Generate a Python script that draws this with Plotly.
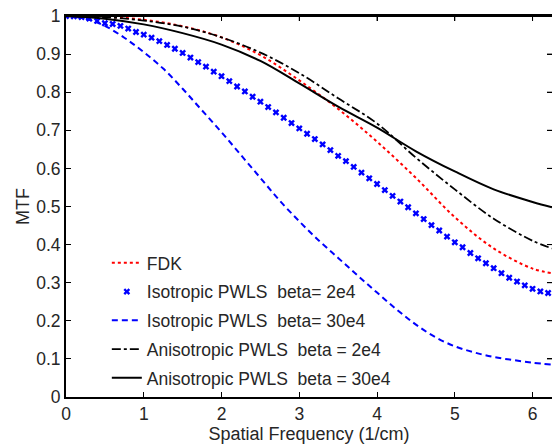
import numpy as np
import plotly.graph_objects as go

# ---- data ----
x_line = [0, 0.5, 1.0, 1.5, 2.0, 2.5, 3.0, 3.5, 4.0, 4.5, 5.0, 5.5, 6.0, 6.25]
fdk = [1.0, 0.998, 0.990, 0.973, 0.944, 0.897, 0.831, 0.756, 0.670, 0.575, 0.472, 0.390, 0.337, 0.325]
aniso_2e4 = [1.0, 0.997, 0.988, 0.972, 0.944, 0.904, 0.850, 0.784, 0.718, 0.628, 0.545, 0.468, 0.410, 0.390]
aniso_30e4 = [1.0, 0.993, 0.978, 0.955, 0.925, 0.882, 0.823, 0.762, 0.707, 0.645, 0.592, 0.545, 0.512, 0.498]

x_dash = [0, 0.25, 0.5, 0.75, 1.0, 1.25, 1.5, 1.75, 2.0, 2.25, 2.5, 2.75, 3.0, 3.25,
          3.5, 3.75, 4.0, 4.25, 4.5, 4.75, 5.0, 5.25, 5.5, 5.75, 6.0, 6.25]
iso_30e4 = [1.0, 0.993, 0.974, 0.943, 0.905, 0.862, 0.809, 0.752, 0.695, 0.635, 0.575, 0.515,
            0.461, 0.411, 0.365, 0.319, 0.274, 0.230, 0.190, 0.157, 0.133, 0.117, 0.105,
            0.097, 0.090, 0.085]

x_mark = [round(0.1 * i, 1) for i in range(63)]
iso_2e4 = [1.000, 0.999, 0.997, 0.993, 0.987, 0.981, 0.979, 0.974, 0.967, 0.958,
           0.951, 0.943, 0.934, 0.924, 0.914, 0.903, 0.891, 0.879, 0.867, 0.854,
           0.842, 0.829, 0.815, 0.802, 0.788, 0.775, 0.761, 0.747, 0.733, 0.719,
           0.705, 0.691, 0.677, 0.663, 0.648, 0.633, 0.619, 0.604, 0.589, 0.574,
           0.559, 0.543, 0.528, 0.513, 0.498, 0.482, 0.467, 0.451, 0.437, 0.421,
           0.406, 0.393, 0.378, 0.364, 0.351, 0.338, 0.325, 0.313, 0.303, 0.293,
           0.284, 0.277, 0.273]

x_ticks = [0, 1, 2, 3, 4, 5, 6]
y_ticks = [0, 0.1, 0.2, 0.3, 0.4, 0.5, 0.6, 0.7, 0.8, 0.9, 1]
y_tick_text = ["0", "0.1", "0.2", "0.3", "0.4", "0.5", "0.6", "0.7", "0.8", "0.9", "1"]

FONT = "Liberation Sans, Arial, sans-serif"
TXT = "#262626"

W, H = 552, 447
ML, MR, MT, MB = 66.3, 0, 15.5, 49.5
PW, PH = W - ML - MR, H - MT - MB
TICK = 5

fig = go.Figure()
fig.add_trace(go.Scatter(x=x_line, y=fdk, mode="lines", name="FDK", legendgroup="a",
                         line=dict(color="#ff0000", width=2, dash="dot", shape="spline")))
fig.add_trace(go.Scatter(x=x_mark, y=iso_2e4, mode="markers", name="Isotropic PWLS  beta= 2e4",
                         legendgroup="b",
                         marker=dict(symbol="x", size=6, color="#0000ff", line=dict(width=0))))
fig.add_trace(go.Scatter(x=x_dash, y=iso_30e4, mode="lines", name="Isotropic PWLS  beta= 30e4",
                         legendgroup="c",
                         line=dict(color="#0000ff", width=2, dash="6px,4px", shape="spline")))
fig.add_trace(go.Scatter(x=x_line, y=aniso_2e4, mode="lines", name="Anisotropic PWLS  beta = 2e4",
                         legendgroup="d",
                         line=dict(color="#000000", width=1.8, dash="dashdot", shape="spline")))
fig.add_trace(go.Scatter(x=x_line, y=aniso_30e4, mode="lines", name="Anisotropic PWLS  beta = 30e4",
                         legendgroup="e",
                         line=dict(color="#000000", width=2, shape="spline")))

axis_common = dict(showline=True, linecolor="#000000", linewidth=2, mirror="allticks",
                   ticks="inside", ticklen=TICK, tickcolor="#000000", tickwidth=1,
                   showgrid=False, zeroline=False, automargin=False,
                   ticklabeloverflow="allow",
                   tickfont=dict(family=FONT, size=17.5, color=TXT))

fig.update_xaxes(range=[0, 6.25], tickvals=x_ticks, ticktext=[str(t) for t in x_ticks],
                 ticklabelstandoff=0,
                 title=dict(text="Spatial Frequency (1/cm)", font=dict(family=FONT, size=18, color=TXT),
                            standoff=2),
                 **axis_common)
fig.update_yaxes(range=[0, 1], tickvals=y_ticks, ticktext=y_tick_text,
                 ticklabelstandoff=0,
                 title=dict(text="MTF", font=dict(family=FONT, size=18, color=TXT), standoff=2),
                 **axis_common)

# frame: top border line, plus mirrored inward ticks on top and right
shapes = [dict(type="line", xref="paper", yref="paper", x0=0, x1=1, y0=1, y1=1,
               line=dict(color="#000000", width=2), layer="above")]
for t in x_ticks[1:]:
    shapes.append(dict(type="line", xref="x", yref="paper", x0=t, x1=t, y0=1, y1=1 - TICK / PH,
                       line=dict(color="#000000", width=1), layer="above"))
for t in y_ticks[1:-1]:
    shapes.append(dict(type="line", xref="paper", yref="y", x0=1, x1=1 - TICK / PW, y0=t, y1=t,
                       line=dict(color="#000000", width=1), layer="above"))

fig.update_layout(
    width=W, height=H,
    margin=dict(l=ML, r=MR, t=MT, b=MB, autoexpand=False),
    paper_bgcolor="white", plot_bgcolor="white",
    showlegend=True,
    legend=dict(x=0.084, y=0.399, xanchor="left", yanchor="top",
                bgcolor="rgba(0,0,0,0)", borderwidth=0,
                font=dict(family=FONT, size=17.5, color=TXT),
                tracegroupgap=3, traceorder="grouped"),
    shapes=shapes,
)

fig.write_html("out.html", config={"displayModeBar": False},
               post_script="document.body.style.margin='0';document.body.style.overflow='hidden';")
